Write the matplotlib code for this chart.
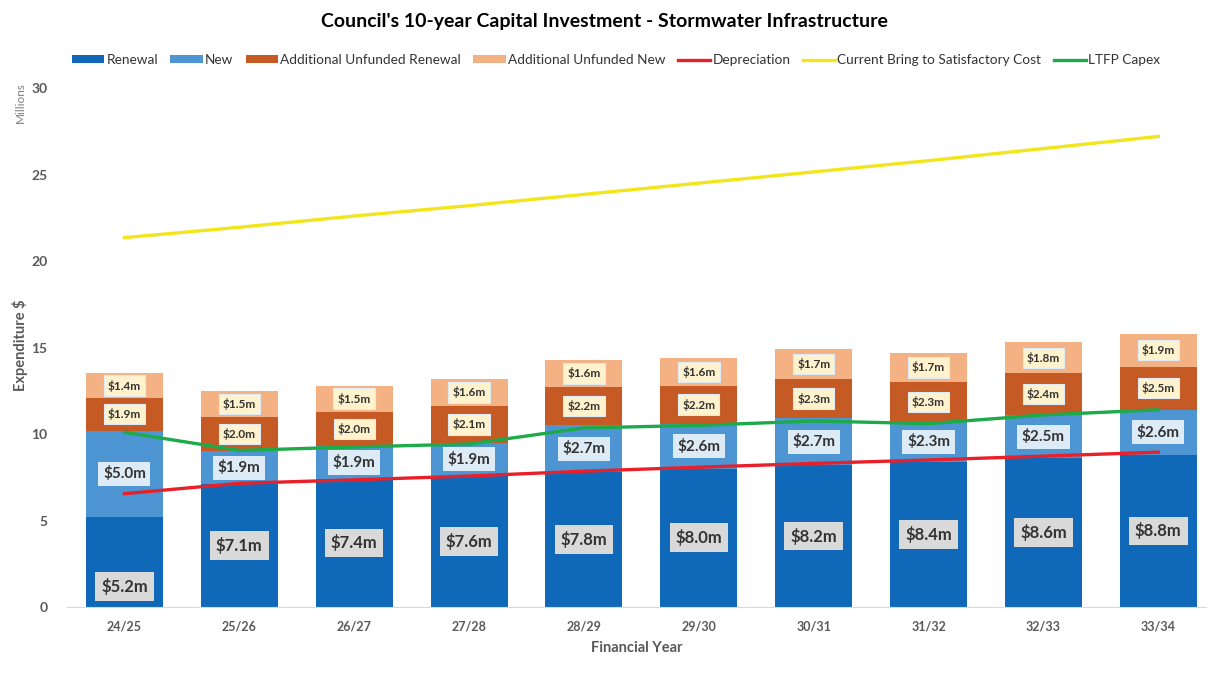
import matplotlib
matplotlib.use("Agg")
import matplotlib.pyplot as plt
from matplotlib.patches import Patch
from matplotlib.lines import Line2D
import numpy as np

years = ["24/25", "25/26", "26/27", "27/28", "28/29", "29/30", "30/31", "31/32", "32/33", "33/34"]
renewal = [5.2, 7.1, 7.4, 7.6, 7.8, 8.0, 8.2, 8.4, 8.6, 8.8]
new = [5.0, 1.9, 1.9, 1.9, 2.7, 2.6, 2.7, 2.3, 2.5, 2.6]
unf_renewal = [1.9, 2.0, 2.0, 2.1, 2.2, 2.2, 2.3, 2.3, 2.4, 2.5]
unf_new = [1.4, 1.5, 1.5, 1.6, 1.6, 1.6, 1.7, 1.7, 1.8, 1.9]
depreciation = [6.55, 7.15, 7.35, 7.57, 7.85, 8.08, 8.3, 8.5, 8.72, 8.95]
bring_to_sat = [21.35, 21.95, 22.6, 23.2, 23.85, 24.5, 25.15, 25.8, 26.5, 27.2]
ltfp_capex = [10.1, 9.05, 9.25, 9.42, 10.35, 10.5, 10.75, 10.6, 11.1, 11.4]

plt.rcParams['font.family'] = ['Lato', 'DejaVu Sans']

C_REN = "#1068B8"
C_NEW = "#4E95D3"
C_UREN = "#C55A24"
C_UNEW = "#F4B183"
C_DEP = "#E8202A"
C_YEL = "#F2E61B"
C_GRN = "#1DAA4A"

fig = plt.figure(figsize=(12.08, 6.75), dpi=100)
ax = fig.add_axes([67/1208, 68/675, (1206-67)/1208, (607-88)/675])

x = np.arange(len(years))
w = 0.67
r = np.array(renewal); n = np.array(new); ur = np.array(unf_renewal); un = np.array(unf_new)
ax.bar(x, r, w, color=C_REN, zorder=2)
ax.bar(x, n, w, bottom=r, color=C_NEW, zorder=2)
ax.bar(x, ur, w, bottom=r + n, color=C_UREN, zorder=2)
ax.bar(x, un, w, bottom=r + n + ur, color=C_UNEW, zorder=2)

ax.plot(x, depreciation, color=C_DEP, lw=2.4, zorder=3)
ax.plot(x, bring_to_sat, color=C_YEL, lw=2.4, zorder=3)
ax.plot(x, ltfp_capex, color=C_GRN, lw=2.4, zorder=3)

txt = "#333333"
for i in range(len(x)):
    ry = r[i] / 2 if i > 0 else 1.2
    ax.text(x[i], ry, f"${renewal[i]:.1f}m", ha='center', va='center', fontsize=12,
            fontweight='bold', color=txt, zorder=5,
            bbox=dict(boxstyle='square,pad=0.35', fc='#D9D9D9', ec='none'))
    ax.text(x[i], r[i] + n[i] / 2, f"${new[i]:.1f}m", ha='center', va='center', fontsize=11,
            fontweight='bold', color=txt, zorder=5,
            bbox=dict(boxstyle='square,pad=0.3', fc='#DDEBF7', ec='none'))
    ax.text(x[i], r[i] + n[i] + ur[i] / 2, f"${unf_renewal[i]:.1f}m", ha='center', va='center',
            fontsize=8.5, fontweight='bold', color=txt, zorder=5,
            bbox=dict(boxstyle='square,pad=0.35', fc='#FFF2CC', ec='#DDEBF7', lw=0.8))
    ax.text(x[i], r[i] + n[i] + ur[i] + un[i] / 2, f"${unf_new[i]:.1f}m", ha='center', va='center',
            fontsize=8.5, fontweight='bold', color=txt, zorder=5,
            bbox=dict(boxstyle='square,pad=0.35', fc='#FFF2CC', ec='#DDEBF7', lw=0.8))

ax.set_xlim(-0.5, 9.415)
ax.set_ylim(0, 30)
ax.set_yticks([0, 5, 10, 15, 20, 25, 30])
ax.set_xticks(x)
ax.set_xticklabels(years)
for s in ['top', 'right', 'left']:
    ax.spines[s].set_visible(False)
ax.spines['bottom'].set_color('#D9D9D9')
ax.tick_params(axis='both', length=0, colors='#595959', labelsize=10)
ax.tick_params(axis='x', pad=10)
ax.tick_params(axis='y', pad=14)
for lab in ax.get_xticklabels() + ax.get_yticklabels():
    lab.set_fontweight('bold')
for lab in ax.get_xticklabels():
    lab.set_fontsize(9)

ax.set_xlabel("Financial Year", fontsize=10.5, fontweight='bold', color='#595959', labelpad=6)
fig.text(20/1208, 1 - 345/675, "Expenditure $", rotation=90, ha='center', va='center',
         fontsize=10.5, fontweight='bold', color='#595959')
fig.text(20/1208, 1 - 103/675, "Millions", rotation=90, ha='center', va='center',
         fontsize=8.5, color='#7F7F7F')

fig.text(0.5, 1 - 22/675, "Council's 10-year Capital Investment - Stormwater Infrastructure",
         ha='center', va='center', fontsize=14, fontweight='bold', color='#000000')

handles = [Patch(fc=C_REN, label='Renewal'), Patch(fc=C_NEW, label='New'),
           Patch(fc=C_UREN, label='Additional Unfunded Renewal'),
           Patch(fc=C_UNEW, label='Additional Unfunded New'),
           Line2D([], [], color=C_DEP, lw=2.4, label='Depreciation'),
           Line2D([], [], color=C_YEL, lw=2.4, label='Current Bring to Satisfactory Cost'),
           Line2D([], [], color=C_GRN, lw=2.4, label='LTFP Capex')]
leg = fig.legend(handles=handles, loc='center', bbox_to_anchor=(616/1208, 1 - 60/675), ncol=7,
                 frameon=False, fontsize=9.8, handlelength=2.4, handleheight=0.55,
                 handletextpad=0.15, columnspacing=0.9, labelcolor='#333333')

fig.savefig("out.png", dpi=100)
